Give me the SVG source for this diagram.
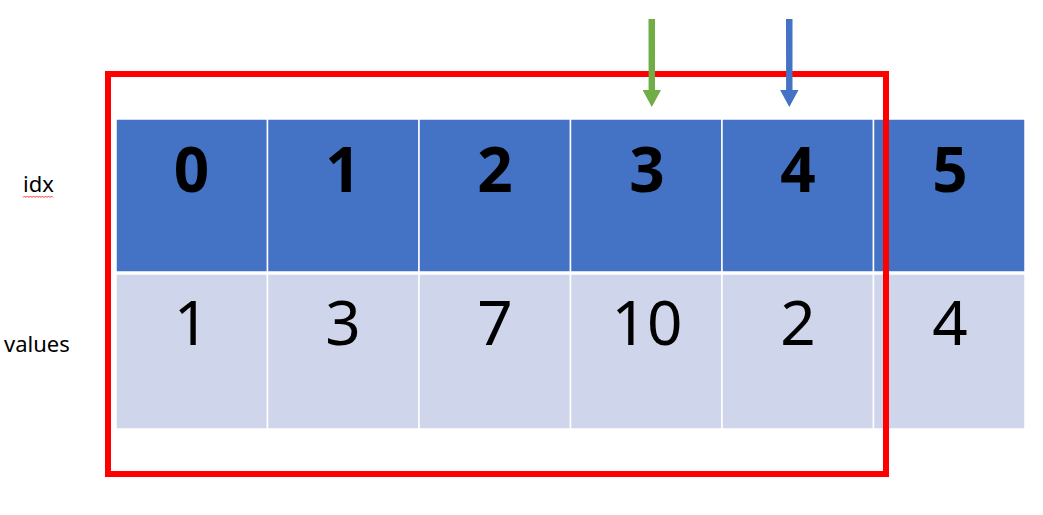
<svg xmlns="http://www.w3.org/2000/svg" width="1043" height="515" viewBox="0 0 1043 515">
<style>
.h{fill:#4472C4;stroke:#ffffff;stroke-width:1.5}
.v{fill:#CFD5EA;stroke:#ffffff;stroke-width:1.5}
.ht{font-family:"Noto Sans","Liberation Sans",sans-serif;font-weight:bold;font-size:62px;fill:#000;text-anchor:middle}
.vt{font-family:"Noto Sans","Liberation Sans",sans-serif;font-size:62px;fill:#000;text-anchor:middle}
.lb{font-family:"Noto Sans","Liberation Sans",sans-serif;font-size:22px;fill:#000}
</style>
<rect width="1043" height="515" fill="#ffffff"/>
<g id="labels">
<text class="lb" x="23" y="192">idx</text>
<path d="M23,197.5 l1.5,-1.5 l1.5,1.5 l1.5,-1.5 l1.5,1.5 l1.5,-1.5 l1.5,1.5 l1.5,-1.5 l1.5,1.5 l1.5,-1.5 l1.5,1.5 l1.5,-1.5 l1.5,1.5 l1.5,-1.5 l1.5,1.5 l1.5,-1.5 l1.5,1.5 l1.5,-1.5 l1.5,1.5 l1.5,-1.5 l1.5,1.5" fill="none" stroke="#ff0000" stroke-width="0.8"/>
<text class="lb" x="4" y="352">values</text>
</g>
<g id="col0"><rect class="h" x="116" y="119" width="151.5" height="153"/><rect class="v" x="116" y="274" width="151.5" height="155"/><text class="ht" x="191.5" y="192">0</text><text class="vt" x="191.5" y="345">1</text></g>
<g id="col1"><rect class="h" x="267.5" y="119" width="151.5" height="153"/><rect class="v" x="267.5" y="274" width="151.5" height="155"/><text class="ht" x="343" y="192">1</text><text class="vt" x="343" y="345">3</text></g>
<g id="col2"><rect class="h" x="419" y="119" width="151.5" height="153"/><rect class="v" x="419" y="274" width="151.5" height="155"/><text class="ht" x="495" y="192">2</text><text class="vt" x="495" y="345">7</text></g>
<g id="col3"><rect class="h" x="570.5" y="119" width="151.5" height="153"/><rect class="v" x="570.5" y="274" width="151.5" height="155"/><text class="ht" x="647" y="192">3</text><text class="vt" x="647" y="345">10</text></g>
<g id="col4"><rect class="h" x="722" y="119" width="151.5" height="153"/><rect class="v" x="722" y="274" width="151.5" height="155"/><text class="ht" x="798" y="192">4</text><text class="vt" x="798" y="345">2</text></g>
<g id="col5"><rect class="h" x="873.5" y="119" width="151.5" height="153"/><rect class="v" x="873.5" y="274" width="151.5" height="155"/><text class="ht" x="950" y="192">5</text><text class="vt" x="950" y="345">4</text></g>
<g id="window"><rect x="108" y="74" width="778" height="400" fill="none" stroke="#ff0000" stroke-width="6"/></g>
<g id="connectors">
<path d="M648.5,19 h6.5 v71 h6 l-9.2,17 l-9.2,-17 h6 z" fill="#70AD47"/>
<path d="M786,19 h6.5 v71 h6 l-9.2,17 l-9.2,-17 h6 z" fill="#4472C4"/>
</g>
</svg>
